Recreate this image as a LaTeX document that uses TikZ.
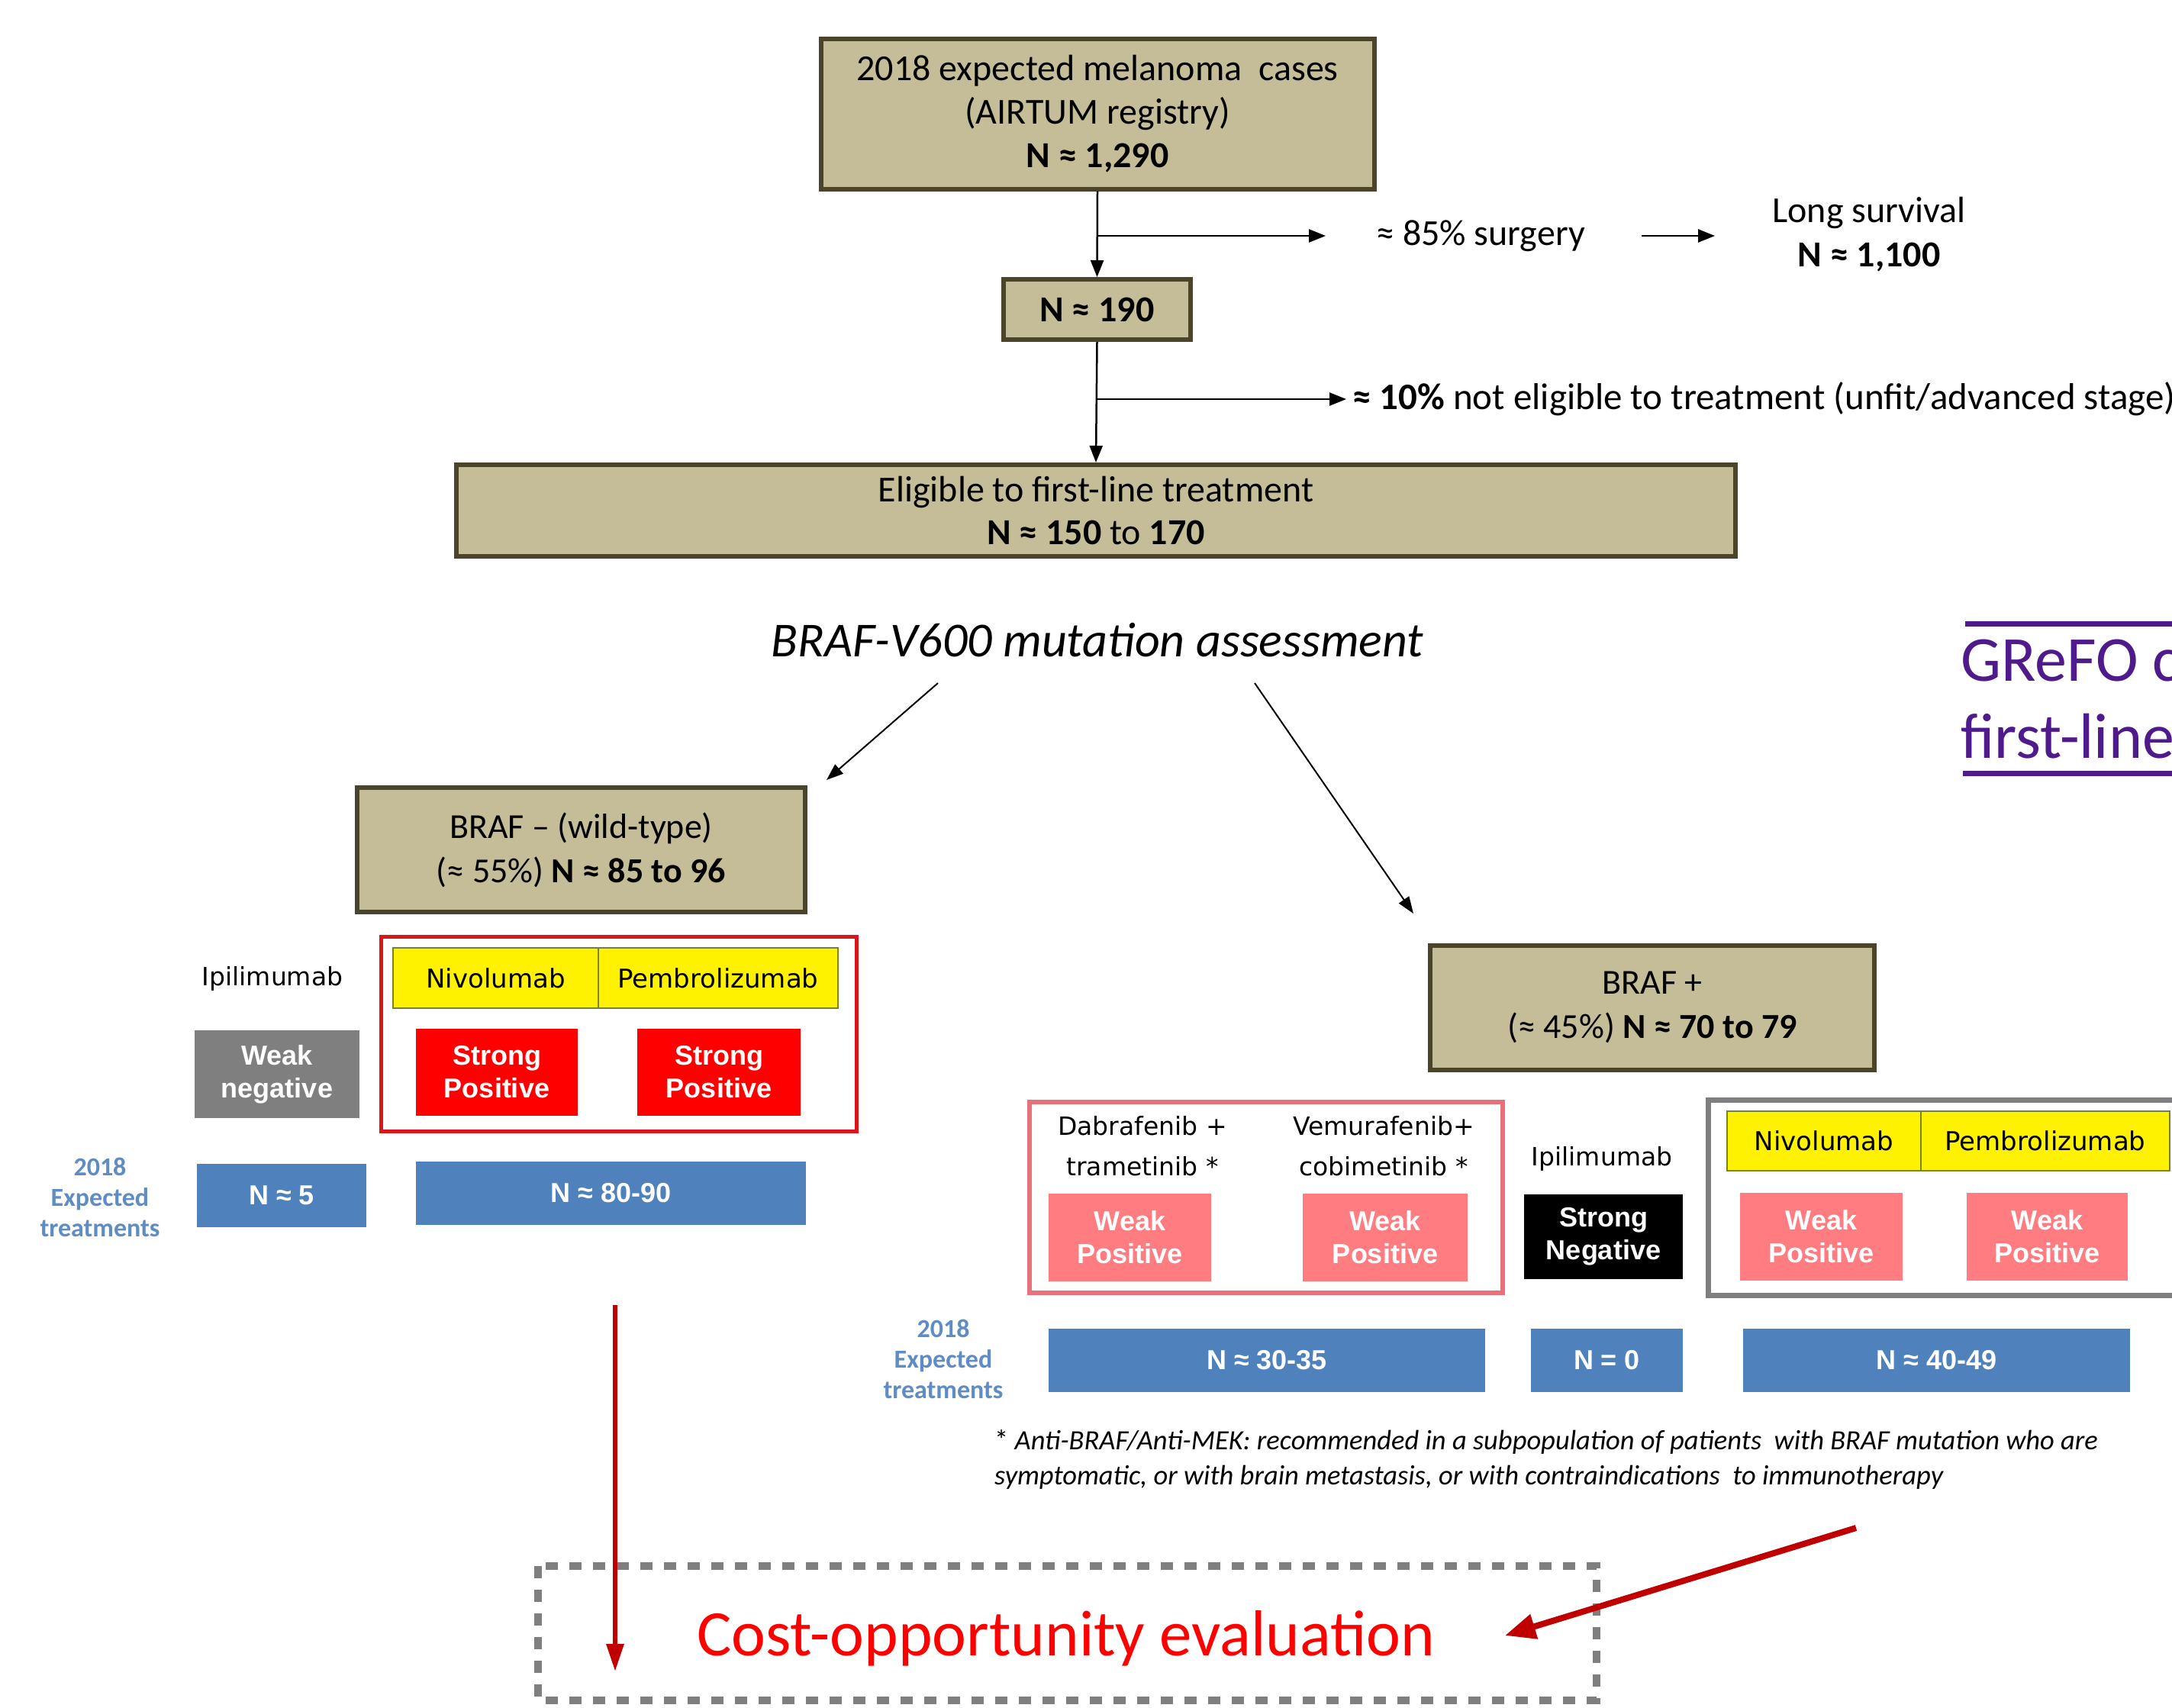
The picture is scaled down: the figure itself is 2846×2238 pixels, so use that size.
\documentclass[tikz,border=0pt]{standalone}
\usepackage{fontspec}
\setmainfont{Carlito}
\newfontfamily\dvfont{DejaVu Sans}
\newfontfamily\arfont{Liberation Sans}
\usetikzlibrary{arrows.meta}
\definecolor{boxtan}{HTML}{C4BD97}
\definecolor{boxedge}{HTML}{4A452A}
\definecolor{redframe}{RGB}{218,22,28}
\definecolor{pinkframe}{RGB}{232,112,120}
\definecolor{wpos}{HTML}{FF7C80}
\definecolor{spos}{HTML}{FF0000}
\definecolor{bblue}{HTML}{4F81BD}
\definecolor{lblue}{RGB}{96,140,196}
\definecolor{midgray}{HTML}{7F7F7F}
\definecolor{yedge}{RGB}{120,130,40}
\definecolor{darkred}{HTML}{C00000}
\definecolor{grefo}{RGB}{78,26,140}
\newcommand\myfs[2]{\fontsize{#1}{#2}\selectfont}
\tikzset{
  tanbox/.style={draw=boxedge, line width=6pt, fill=boxtan, align=center, inner sep=0pt, font=\myfs{48}{57}},
  cellbox/.style={draw=yedge, line width=1.5pt, fill=yellow, inner sep=0pt, font=\dvfont\myfs{34}{40}},
  pillbox/.style={inner sep=0pt, align=center, text=white, font=\arfont\bfseries\myfs{36}{43}},
  bluebox/.style={pillbox, fill=bblue},
  drugtext/.style={inner sep=0pt, align=center, font=\dvfont\myfs{33}{53}},
  exptext/.style={inner sep=0pt, align=center, text=lblue, font=\bfseries\myfs{34}{40}},
  plaintext/.style={inner sep=0pt, align=center, font=\myfs{48}{58}},
  arr/.style={-{Triangle[length=22pt,width=17pt]}, line width=2.5pt},
  thinarr/.style={-{Triangle[length=22pt,width=16pt]}, line width=2pt},
  redarr/.style={-{Triangle[length=36pt,width=22pt]}, line width=6pt, draw=darkred},
  bigredarr/.style={-{Triangle[length=40pt,width=32pt]}, line width=8pt, draw=darkred},
}
\begin{document}
\begin{tikzpicture}[x=1pt,y=-1pt]
\useasboundingbox (0,0) rectangle (2846,2238);
\clip (0,0) rectangle (2846,2238);
\fill[white] (0,0) rectangle (2846,2238);

% top flow
\node[tanbox, minimum width=725, minimum height=197] (top) at (1438,149)
  {2018 expected melanoma\ \ cases\\(AIRTUM registry)\\\textbf{N ≈ 1,290}};
\node[tanbox, minimum width=245, minimum height=79] (n190) at (1437.5,405.5) {\textbf{N ≈ 190}};
\node[tanbox, minimum width=1676, minimum height=120, font=\myfs{48}{56}] (elig) at (1436,669)
  {Eligible to first-line treatment\\\textbf{N ≈ 150} to \textbf{170}};

\draw[arr] (top.south) -- (n190.north);
\draw[arr] (n190.south) -- (elig.north);

\node[plaintext] (surg) at (1940,309) {≈ 85\% surgery};
\node[plaintext] (long) at (2449,307) {Long survival\\\textbf{N ≈ 1,100}};
\coordinate (b1s) at (1437,309);
\coordinate (b1e) at (1737,309);
\draw[arr] (b1s) -- (b1e);
\coordinate (b2s) at (2151,309);
\coordinate (b2e) at (2247,309);
\draw[arr] (b2s) -- (b2e);

\node[plaintext, anchor=west, font=\myfs{49}{58}] (noteli) at (1772,523)
  {\textbf{≈ 10\%} not eligible to treatment (unfit/advanced stage)};
\coordinate (b3s) at (1437,523);
\coordinate (b3e) at (1764,523);
\draw[arr] (b3s) -- (b3e);

% mutation assessment
\node[inner sep=0pt, font=\itshape\myfs{64}{70}] (mut) at (1438,839) {BRAF-V600 mutation assessment};
\coordinate (m1s) at (1229,895);
\coordinate (m1e) at (1083,1022);
\coordinate (m2s) at (1644,895);
\coordinate (m2e) at (1852,1197);
\draw[thinarr] (m1s) -- (m1e);
\draw[thinarr] (m2s) -- (m2e);

% BRAF wild type
\node[tanbox, minimum width=587, minimum height=163, font=\myfs{46}{58}] (wt) at (761.5,1113.5)
  {BRAF -- (wild-type)\\(≈ 55\%) \textbf{N ≈ 85 to 96}};
\draw[redframe, line width=5pt] (499.5,1227.5) rectangle (1122.5,1482.5);
\node[cellbox, minimum width=269, minimum height=79] (nivoL) at (649.5,1281.5) {Nivolumab};
\node[cellbox, minimum width=314, minimum height=79] (pembL) at (941,1281.5) {Pembrolizumab};
\node[drugtext] (ipiL) at (357,1282) {Ipilimumab};
\node[pillbox, fill=midgray, minimum width=216, minimum height=115] (wneg) at (363,1407.5) {Weak\\negative};
\node[pillbox, fill=spos, minimum width=212, minimum height=114] (spos1) at (651,1405) {Strong\\Positive};
\node[pillbox, fill=spos, minimum width=214, minimum height=114] (spos2) at (942,1405) {Strong\\Positive};
\node[exptext] (expL) at (131,1569) {2018\\Expected\\treatments};
\node[bluebox, minimum width=222, minimum height=83] (n5) at (369,1566.5) {N ≈ 5};
\node[bluebox, minimum width=511, minimum height=83] (n8090) at (800.5,1563.5) {N ≈ 80-90};

% BRAF +
\node[tanbox, minimum width=582, minimum height=163, font=\myfs{46}{58}] (bp) at (2165,1320)
  {BRAF +\\(≈ 45\%) \textbf{N ≈ 70 to 79}};
\draw[pinkframe, line width=6pt] (1349,1444) rectangle (1969,1694);
\node[drugtext] (dab) at (1497,1502) {Dabrafenib +\\trametinib *};
\node[drugtext] (vem) at (1813,1502) {Vemurafenib+\\cobimetinib *};
\node[pillbox, fill=wpos, minimum width=213, minimum height=115] (wp1) at (1480.5,1621.5) {Weak\\Positive};
\node[pillbox, fill=wpos, minimum width=216, minimum height=115] (wp2) at (1815,1621.5) {Weak\\Positive};
\node[drugtext] (ipiR) at (2099,1518) {Ipilimumab};
\node[pillbox, fill=black, minimum width=208, minimum height=111] (sneg) at (2101,1620.5) {Strong\\Negative};
\draw[midgray, line width=7pt] (2238.5,1441.5) rectangle (2900,1697.5);
\node[cellbox, minimum width=254, minimum height=78] (nivoR) at (2390,1495) {Nivolumab};
\node[cellbox, minimum width=326, minimum height=78] (pembR) at (2680,1495) {Pembrolizumab};
\node[pillbox, fill=wpos, minimum width=213, minimum height=115] (wp3) at (2386.5,1620.5) {Weak\\Positive};
\node[pillbox, fill=wpos, minimum width=211, minimum height=115] (wp4) at (2682.5,1620.5) {Weak\\Positive};
\node[exptext] (expR) at (1236,1781) {2018\\Expected\\treatments};
\node[bluebox, minimum width=572, minimum height=83] (n3035) at (1660,1782.5) {N ≈ 30-35};
\node[bluebox, minimum width=199, minimum height=83] (n0) at (2105.5,1782.5) {N = 0};
\node[bluebox, minimum width=507, minimum height=83] (n4049) at (2537.5,1782.5) {N ≈ 40-49};

\node[inner sep=0pt, anchor=west, align=left, font=\itshape\myfs{36.5}{46}] (foot) at (1303,1912)
  {{\upshape *} Anti-BRAF/Anti-MEK: recommended in a subpopulation of patients\ \ with BRAF mutation who are\\
   symptomatic, or with brain metastasis, or with contraindications\ \ to immunotherapy};

% GReFO
\coordinate (g1) at (2575,817);
\coordinate (g2) at (2900,817);
\coordinate (g3) at (2572,1013);
\coordinate (g4) at (2900,1013);
\draw[grefo, line width=7pt] (g1) -- (g2);
\draw[grefo, line width=7pt] (g3) -- (g4);
\node[inner sep=0pt, anchor=base west, text=grefo, font=\myfs{84}{100}] (grefoA) at (2569,892) {GReFO c};
\node[inner sep=0pt, anchor=base west, text=grefo, font=\myfs{84}{100}] (grefoB) at (2569,993) {first-line};

% cost-opportunity
\draw[midgray, line width=10pt, dash pattern=on 16pt off 15pt] (705,2052) rectangle (2092,2228);
\node[inner sep=0pt, text=red, font=\myfs{85}{90}] (cost) at (1397,2147) {Cost-opportunity evaluation};
\coordinate (r1s) at (806,1710);
\coordinate (r1e) at (806,2190);
\draw[redarr] (r1s) -- (r1e);
\coordinate (r2s) at (2432,2002);
\coordinate (r2e) at (1972,2143);
\draw[bigredarr] (r2s) -- (r2e);
\end{tikzpicture}
\end{document}
